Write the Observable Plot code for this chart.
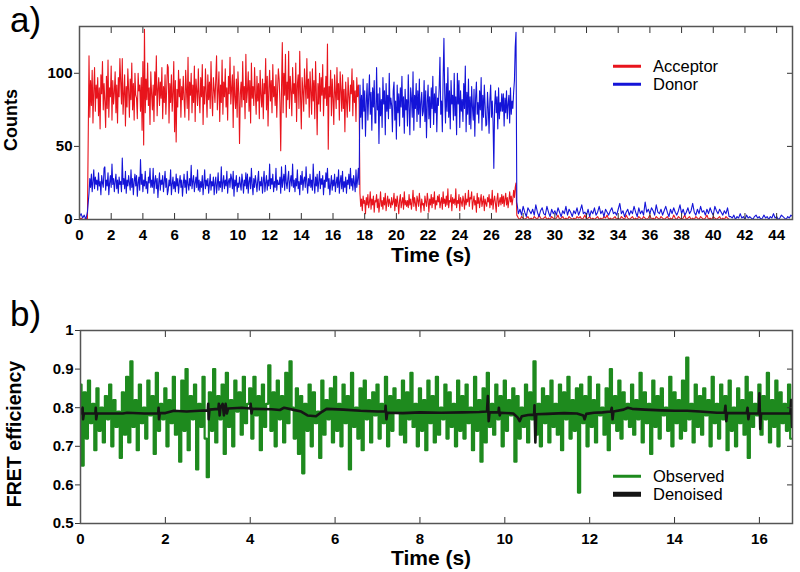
<!DOCTYPE html>
<html>
<head>
<meta charset="utf-8">
<script src="https://cdn.jsdelivr.net/npm/d3@7"></script>
<script src="https://cdn.jsdelivr.net/npm/@observablehq/plot@0.6"></script>
<style>
  html, body { margin: 0; padding: 0; background: #fff; }
  #wrap { position: relative; width: 800px; height: 572px; overflow: hidden; font-family: "Liberation Sans", Arial, sans-serif; color: #000; }
  .panel { position: absolute; left: 0; }
  .lbl { position: absolute; white-space: nowrap; line-height: 1; }
  .rot { transform: translate(-50%, -50%) rotate(-90deg); }
  .leg { position: absolute; display: flex; align-items: center; font-size: 16.5px; line-height: 1; }
  .leg span.sw { display: inline-block; width: 28px; margin-right: 12px; }
</style>
</head>
<body>
<div id="wrap">
  <div id="pa" class="panel" style="top:0px"></div>
  <div id="pb" class="panel" style="top:286px"></div>
</div>
<script>
// ---------- Panel a: single-molecule intensity traces ----------
const timeTicksA = d3.range(0, 45, 2);
const countTicks = [0, 50, 100];

// Acceptor counts
const accOff = [0, 1, 0, 0, 1, 0];                       // t = 0.0 – 0.5, every 0.1 s
const accHigh = [                                         // t = 0.6 – 17.65, every 0.05 s
  112,70,95,78,102,66,88,104,74,92,83,97,71,90,62,99,86,108,75,93,
  81,63,98,76,109,70,90,84,105,68,95,79,87,101,73,92,66,97,84,110,
  94,79,110,72,86,99,64,91,77,103,88,70,96,82,107,75,93,68,100,85,
  83,69,100,88,92,74,97,61,108,51,130,73,96,82,107,78,90,65,101,86,
  75,92,67,101,85,112,71,89,97,78,94,83,104,69,91,80,99,72,88,106,
  104,66,93,80,99,74,87,108,60,95,53,89,77,102,84,96,70,91,82,98,
  82,70,102,89,76,111,68,94,85,100,73,92,80,105,67,96,88,78,103,84,
  73,97,84,106,65,91,79,103,87,70,99,82,94,76,108,85,71,97,89,80,
  96,112,75,88,101,67,92,80,109,72,94,84,103,77,90,68,98,86,111,79,
  90,99,63,105,84,76,96,70,101,88,52,86,94,77,108,82,91,69,113,80,
  88,101,74,95,66,107,83,91,78,104,86,72,98,81,93,69,102,85,77,96,
  69,93,86,110,75,98,64,89,102,81,95,73,106,84,91,78,99,70,88,103,
  96,80,47,90,121,73,100,85,113,70,94,82,115,76,98,88,71,104,86,93,
  80,107,67,92,99,76,115,84,62,97,88,74,103,91,79,110,83,96,70,101,
  88,72,103,81,95,69,108,86,58,93,79,100,74,97,85,106,71,90,83,98,
  78,120,48,91,84,102,71,96,83,65,99,87,76,104,82,93,68,101,89,74,
  99,76,89,60,94,81,70,97,85,74,92,86,103,71,95,80,88,67,97,84,
  92,79
];
const accMid = [                                          // t = 17.7 – 27.55, every 0.05 s
  18,9,14,6,16,11,13,4,15,10,17,8,12,19,7,14,10,16,5,13,
  12,17,8,14,5,11,19,9,13,7,15,10,18,6,12,16,9,14,11,8,
  15,10,12,18,6,14,9,16,11,4,13,17,8,12,15,7,19,10,13,9,
  13,8,17,10,14,7,12,20,9,15,11,6,16,13,9,18,12,5,14,10,
  11,6,16,12,9,18,13,5,14,10,17,8,15,11,19,7,13,10,16,12,
  17,8,12,15,7,19,11,14,9,16,10,21,8,13,12,17,6,15,11,14,
  10,21,8,13,11,17,6,15,12,9,16,13,7,18,10,14,12,20,9,15,
  14,19,7,12,16,10,13,5,18,11,15,8,13,17,9,12,16,6,14,11,
  9,15,12,17,8,14,10,20,7,13,16,11,5,14,18,9,12,15,10,17,
  11,16,9,14,18,10,15,8,13,19,12,16,10,14,20,15,22,25
];
const accLow = [                                          // t = 27.6 – 41.0, every 0.1 s
  3,1,0,2,1,0,1,2,0,1, 0,2,1,0,3,1,0,1,2,0, 1,0,2,1,0,1,3,0,1,2,
  0,1,0,2,1,0,1,0,2,1, 2,0,1,3,0,1,2,0,1,0, 1,2,0,1,0,2,1,3,0,1,
  0,1,2,0,1,0,2,1,0,3, 1,0,1,2,0,1,0,2,1,0, 2,1,0,1,3,0,1,0,2,1,
  0,2,1,0,1,2,0,1,0,3, 1,0,2,1,0,1,3,0,1,2, 0,1,0,2,1,0,2,1,0,1,
  3,0,1,0,2,1,0,1,2,0, 1,0,2,1,0
];

// Donor counts
const donOff = [2, 4, 1, 3, 0, 5];                       // t = 0.0 – 0.5, every 0.1 s
const donHigh = [                                         // t = 0.6 – 17.65, every 0.05 s
  18,28,22,31,19,26,34,21,29,24,27,20,32,23,26,17,30,25,22,35,
  36,20,27,23,32,17,25,30,22,38,24,28,19,26,31,21,27,18,29,24,
  26,19,42,24,28,21,33,18,27,23,30,25,20,34,22,28,17,26,31,23,
  30,16,25,29,20,41,24,31,19,27,23,33,21,26,18,29,25,35,22,27,
  22,35,18,26,30,21,28,15,25,32,20,27,24,30,19,26,33,22,28,17,
  20,27,23,34,17,24,29,21,26,19,31,23,28,18,25,30,22,27,16,24,
  31,22,27,18,33,24,20,28,23,37,21,26,30,19,25,29,22,34,20,27,
  19,26,22,30,17,25,34,21,27,23,28,18,24,31,20,26,23,29,17,25,
  29,18,24,32,20,26,22,36,19,25,30,21,27,23,33,18,26,28,22,31,
  28,21,33,16,27,23,30,19,25,22,29,24,20,31,26,18,27,23,32,21,
  31,18,26,29,21,35,24,17,28,22,30,25,19,27,33,20,26,23,29,18,
  26,33,19,25,30,20,27,23,38,21,28,24,31,19,26,22,35,20,27,24,
  24,29,18,36,22,27,31,20,37,25,21,28,33,19,26,30,23,38,22,27,
  19,28,23,34,21,26,17,30,24,33,20,27,29,22,36,25,18,28,23,31,
  22,27,20,38,25,18,29,23,31,19,26,33,21,28,24,30,17,27,22,32,
  26,35,21,28,17,24,30,20,27,23,31,19,25,29,22,34,18,26,30,21,
  33,19,26,22,29,18,27,24,31,21,35,23,28,20,30,25,19,34,22,27,
  35,24
];
const donMid = [                                          // t = 17.7 – 27.55, every 0.05 s
  92,70,85,62,96,74,88,57,80,93,68,84,99,72,87,61,90,77,95,66,
  66,104,75,86,52,90,71,82,63,97,79,88,58,93,74,85,69,100,76,83,
  78,60,88,94,68,81,55,92,73,86,64,90,77,98,70,84,59,89,75,82,
  64,99,77,58,90,83,70,101,61,85,76,93,67,88,72,96,63,80,87,71,
  74,95,67,88,56,80,92,69,84,63,90,76,98,65,86,73,91,60,83,78,
  90,111,72,81,60,97,124,86,66,93,74,104,70,88,62,95,79,85,68,100,
  71,84,58,100,79,95,63,88,74,82,67,93,76,105,60,87,72,96,65,84,
  62,91,77,68,89,57,83,94,72,80,66,88,75,97,61,85,70,92,78,64,
  65,87,76,59,82,92,70,81,67,35,78,88,73,84,62,90,69,80,74,86,
  74,86,64,83,73,88,69,79,85,66,90,72,81,76,87,95,118,128
];
const donLow = [                                          // t = 27.6 – 41.0, every 0.1 s
  12,4,7,3,9,5,2,8,6,4, 7,3,10,5,2,6,8,4,3,9, 5,2,7,4,6,3,8,5,2,6,
  4,9,3,7,5,2,6,4,8,3, 6,10,4,5,3,7,2,6,4,8, 3,5,9,4,6,2,7,5,3,6,
  8,4,5,3,7,11,4,6,2,5, 7,3,6,4,9,5,2,8,4,6, 3,12,5,7,4,8,6,3,10,5,
  4,7,3,6,9,5,2,7,4,8, 5,3,6,10,4,7,3,5,8,4, 6,11,5,3,7,4,9,5,6,3,
  7,4,8,5,3,9,6,4,7,5, 3,6,4,8,2
];
const donTail = [                                         // t = 41.1 – 45.0, every 0.1 s
  2,1,3,0,2,1,4,1,2,0, 3,1,2,1,0,2,3,1,2,0,
  1,3,1,2,0,2,1,4,1,2, 0,1,3,2,1,0,2,1,3,2
];

// ---------- Panel b: FRET efficiency (every 0.05 s) ----------
const dtB = 0.05;
const timeTicksB = d3.range(0, 17, 2);
const fretTicks = [0.5, 0.6, 0.7, 0.8, 0.9, 1];
const observed = [
  .86,.65,.84,.72,.87,.76,.81,.69,.85,.74,.80,.71,.83,.77,.86,.70,.82,.75,.79,.67,
  .84,.73,.88,.71,.92,.75,.82,.69,.86,.76,.80,.72,.87,.78,.83,.68,.89,.74,.81,.77,
  .85,.70,.82,.76,.88,.73,.79,.66,.87,.74,.90,.69,.83,.77,.86,.64,.81,.75,.88,.72,
  .62,.84,.74,.90,.71,.83,.77,.86,.68,.89,.75,.82,.70,.87,.79,.84,.73,.88,.76,.81,
  .85,.72,.88,.78,.83,.69,.86,.75,.81,.91,.74,.84,.70,.87,.77,.83,.71,.89,.76,.92,
  .80,.72,.85,.68,.83,.63,.81,.74,.86,.70,.84,.76,.79,.67,.87,.73,.82,.77,.85,.71,
  .88,.74,.81,.70,.86,.76,.83,.64,.89,.75,.80,.72,.85,.69,.87,.77,.82,.71,.84,.78,
  .86,.72,.81,.76,.88,.70,.83,.74,.85,.79,.82,.73,.87,.71,.84,.77,.89,.75,.81,.70,
  .85,.74,.82,.69,.87,.76,.83,.71,.88,.73,.80,.77,.86,.72,.84,.75,.81,.70,.87,.74,
  .83,.72,.86,.76,.80,.69,.88,.74,.82,.66,.85,.71,.89,.75,.81,.73,.86,.77,.83,.70,
  .87,.74,.82,.78,.85,.66,.83,.72,.80,.75,.86,.71,.84,.77,.92,.73,.81,.70,.85,.76,
  .83,.71,.87,.75,.81,.73,.86,.69,.84,.77,.88,.72,.82,.74,.85,.58,.86,.76,.83,.70,
  .88,.75,.82,.71,.86,.78,.80,.73,.85,.69,.90,.76,.83,.74,.87,.72,.84,.77,.81,.75,
  .86,.73,.82,.77,.89,.71,.84,.76,.81,.68,.87,.75,.83,.72,.85,.78,.80,.74,.88,.70,
  .84,.76,.82,.72,.87,.74,.93,.77,.81,.71,.86,.75,.83,.73,.85,.78,.82,.70,.88,.76,
  .81,.72,.86,.77,.83,.69,.87,.74,.80,.70,.85,.76,.82,.73,.88,.67,.84,.75,.81,.78,
  .86,.73,.83,.77,.89,.71,.82,.75,.87,.70,.84,.76,.81,.74,.86,.72
];
// Denoised trace: times and values (brief vertical excursions included)
const denoisedT = [
  0, 0.05, 0.06, 0.08, 0.35, 0.36, 0.37, 0.39, 1.0, 1.1, 1.5, 1.83, 1.84, 1.85, 1.87,
  2.0, 2.2, 2.5, 2.8, 3.0, 3.01, 3.02, 3.04, 3.25, 3.26, 3.28, 3.3, 3.35, 3.38, 3.42, 3.45, 3.48,
  3.8, 4.0, 4.01, 4.03, 4.05, 4.5, 4.7, 4.8, 5.0, 5.2, 5.35, 5.55, 5.7, 5.8, 6.2, 6.6, 7.0,
  7.18, 7.19, 7.21, 7.23, 7.6, 8.0, 8.5, 9.0, 9.4, 9.58, 9.6, 9.62, 9.64,
  9.85, 9.86, 9.88, 9.9, 10.2, 10.3, 10.35, 10.4, 10.55, 10.69, 10.7, 10.72, 10.74,
  11.0, 11.4, 11.7, 11.85, 11.88, 11.92, 12.1, 12.3, 12.5, 12.52, 12.54, 12.56, 12.8, 12.9,
  13.0, 13.3, 13.7, 14.0, 14.3, 14.6, 15.0, 15.18, 15.2, 15.22, 15.24, 15.5, 15.7, 15.72, 15.74, 15.76,
  15.98, 16.0, 16.02, 16.04, 16.4, 16.73, 16.75, 16.77, 16.8
];
const denoisedV = [
  .785, .80, .77, .785, .785, .80, .77, .785, .785, .787, .785, .785, .80, .77, .786,
  .786, .792, .79, .792, .793, .81, .77, .795, .797, .81, .78, .80, .81, .78, .81, .785, .798,
  .80, .798, .81, .785, .797, .796, .794, .80, .795, .79, .78, .778, .79, .797, .795, .792, .79,
  .79, .805, .77, .787, .786, .788, .787, .788, .789, .79, .83, .765, .788,
  .788, .80, .78, .787, .785, .775, .765, .778, .781, .782, .806, .71, .783,
  .784, .786, .785, .78, .77, .784, .787, .788, .79, .80, .77, .79, .795, .80,
  .797, .795, .793, .792, .792, .79, .787, .787, .805, .765, .786, .786, .786, .80, .77, .785,
  .785, .837, .745, .785, .785, .785, .82, .75, .785
];

// Build rows: each segment has its own start time and sampling interval
function seg(t0, dt, values) { return values.map((v, i) => ({t: t0 + i * dt, v})); }
const accRows = [
  ...seg(0, 0.1, accOff), ...seg(0.6, 0.05, accHigh),
  ...seg(17.7, 0.05, accMid), ...seg(27.6, 0.1, accLow)
];
const donRows = [
  ...seg(0, 0.1, donOff), ...seg(0.6, 0.05, donHigh),
  ...seg(17.7, 0.05, donMid), ...seg(27.6, 0.1, donLow), ...seg(41.1, 0.1, donTail)
];
const obsRows = seg(0, dtB, observed);
const denRows = denoisedT.map((t, i) => ({t, v: denoisedV[i]}));

const FONT = "'Liberation Sans', Arial, sans-serif";
const svgStyle = {fontSize: "15px", fontWeight: "bold", fontFamily: FONT, color: "#000", background: "transparent", overflow: "visible"};
const tx = {fontSize: 15, fontWeight: "bold", fontFamily: FONT, fill: "#000"};

function axes(xTicks, yTicks, yFmt) {
  return [
    Plot.axisX({anchor: "bottom", ticks: xTicks, tickSize: -6, tickPadding: 16, tickFormat: d3.format("d"), label: null, stroke: "#333", ...tx}),
    Plot.axisX({anchor: "top", ticks: xTicks, tickSize: -6, tickFormat: () => "", label: null, stroke: "#333"}),
    Plot.axisY({anchor: "left", ticks: yTicks, tickSize: 5, tickPadding: 2, tickFormat: yFmt, label: null, stroke: "#333", ...tx}),
    Plot.axisY({anchor: "right", ticks: yTicks, tickSize: -6, tickFormat: () => "", label: null, stroke: "#333"}),
    Plot.frame({stroke: "#555", strokeWidth: 1.5})
  ];
}

const plotA = Plot.plot({
  width: 800, height: 286,
  marginLeft: 79, marginRight: 8, marginTop: 26, marginBottom: 67,
  style: svgStyle,
  x: {domain: [0, 45]},
  y: {domain: [0, 132]},
  marks: [
    Plot.line(accRows, {x: "t", y: "v", stroke: "#e8141c", strokeWidth: 1.1, clip: true}),
    Plot.line(donRows, {x: "t", y: "v", stroke: "#1414d8", strokeWidth: 1.1, clip: true}),
    ...axes(timeTicksA, countTicks, d3.format("d"))
  ]
});
document.getElementById("pa").appendChild(plotA);

const plotB = Plot.plot({
  width: 800, height: 286,
  marginLeft: 80, marginRight: 8, marginTop: 44, marginBottom: 49,
  style: svgStyle,
  x: {domain: [0, 16.78]},
  y: {domain: [0.5, 1]},
  marks: [
    Plot.line(obsRows, {x: "t", y: "v", stroke: "#1e8a1e", strokeWidth: 2.2, curve: "step", clip: true}),
    Plot.line(denRows, {x: "t", y: "v", stroke: "#151515", strokeWidth: 2.6, clip: true}),
    ...axes(timeTicksB, fretTicks, d => d === 1 ? "1" : d.toFixed(1))
  ]
});
document.getElementById("pb").appendChild(plotB);

// ---------- Text: panel letters, axis titles, legends ----------
const wrap = document.getElementById("wrap");
function addText(html, css, cls = "lbl") {
  const d = document.createElement("div");
  d.className = cls;
  d.innerHTML = html;
  Object.assign(d.style, css);
  wrap.appendChild(d);
  return d;
}
addText("a)", {left: "10px", top: "2px", fontSize: "35px"});
addText("b)", {left: "10px", top: "296px", fontSize: "35px"});
addText("Counts", {left: "11px", top: "120px", fontSize: "18px", fontWeight: "bold"}, "lbl rot");
addText("FRET efficiency", {left: "15px", top: "434px", fontSize: "19.5px", fontWeight: "bold"}, "lbl rot");
addText("Time (s)", {left: "431px", top: "254px", fontSize: "21px", fontWeight: "bold", transform: "translate(-50%,-50%)"});
addText("Time (s)", {left: "431px", top: "558px", fontSize: "21px", fontWeight: "bold", transform: "translate(-50%,-50%)", lineHeight: "0.9"});

function legendItem(label, color, thick, x, y) {
  addText(`<span class="sw" style="height:${thick}px;background:${color}"></span>${label}`,
          {left: x + "px", top: y + "px", transform: "translateY(-50%)", fontSize: "16.5px"}, "leg");
}
legendItem("Acceptor", "#e8141c", 3, 613, 66);
legendItem("Donor", "#1414d8", 3, 613, 84);
legendItem("Observed", "#1e8a1e", 3, 613, 476);
legendItem("Denoised", "#151515", 4.5, 613, 494);
</script>
</body>
</html>
